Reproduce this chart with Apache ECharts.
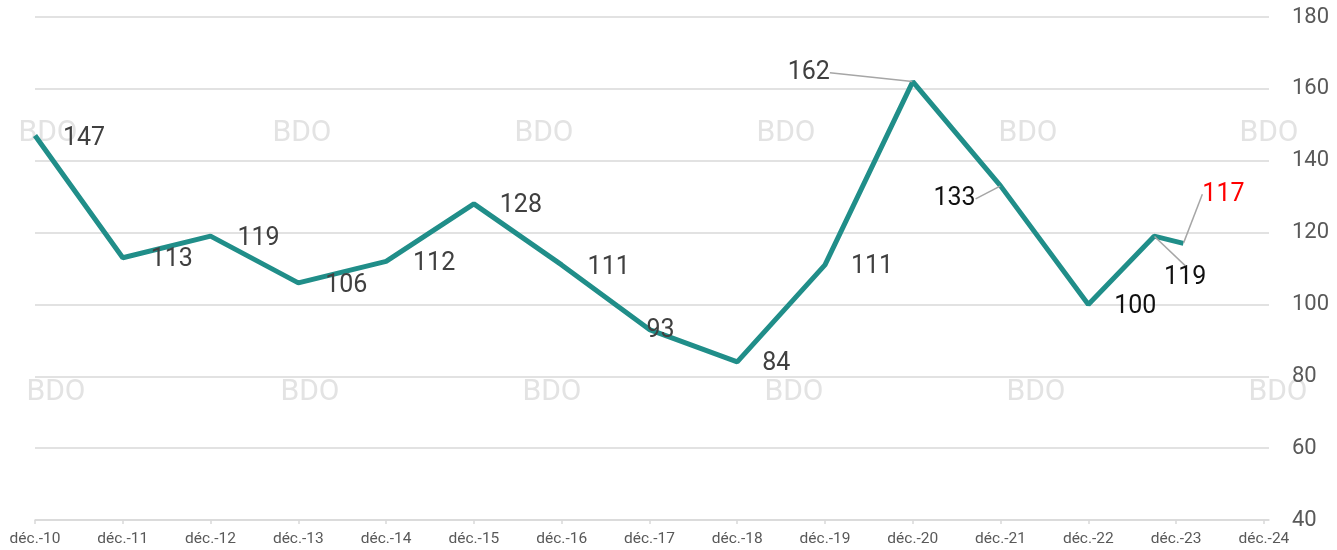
<!DOCTYPE html>
<html>
<head>
<meta charset="utf-8">
<script src="https://cdn.jsdelivr.net/npm/echarts@6/dist/echarts.min.js"></script>
<style>
    html, body { margin: 0; padding: 0; background: #fff; }
    #chart { width: 1337px; height: 550px; }
</style>
</head>
<body>
<div id="chart"></div>
<script>
// months counted from déc. 2010
const months = [0, 12, 24, 36, 48, 60, 72, 84, 96, 108, 120, 132, 144, 153, 157];
const values = [147, 113, 119, 106, 112, 128, 111, 93, 84, 111, 162, 133, 100, 119, 117];
const tickMonths = [0, 12, 24, 36, 48, 60, 72, 84, 96, 108, 120, 132, 144, 156, 168];
const tickLabels = ['déc.-10', 'déc.-11', 'déc.-12', 'déc.-13', 'déc.-14', 'déc.-15', 'déc.-16',
    'déc.-17', 'déc.-18', 'déc.-19', 'déc.-20', 'déc.-21', 'déc.-22', 'déc.-23', 'déc.-24'];

// label placement (centre offset from the point), colour, leader line
const labelOffsets = [[49, 3], [49, 2], [48, 3], [48, 3], [48, 2], [47, 2], [47, 3], [11, 1],
    [39, 2], [47, 2], [-104, -9], [-46, 13], [47, 2], [31, 42], [40, -49]];
const labelColors = ['#404040', '#404040', '#404040', '#404040', '#404040', '#404040', '#404040',
    '#404040', '#404040', '#404040', '#404040', '#111', '#111', '#111', '#ff0000'];
const withLeader = [10, 11, 13, 14];

const seriesData = months.map((m, i) => ({
    value: [m, values[i]],
    label: { color: labelColors[i] },
    labelLine: { show: withLeader.indexOf(i) >= 0 }
}));

const watermarks = [];
[[48, 133], [302, 133], [544, 133], [786, 133], [1028, 133], [1269, 133],
 [56, 392], [310, 392], [552, 392], [794, 392], [1036, 392], [1278, 392]].forEach(p => {
    watermarks.push({
        type: 'text', x: p[0], y: p[1], z: 0, silent: true,
        style: {
            text: 'BDO', fill: '#e3e3e3', font: '30px Roboto',
            textAlign: 'center', textVerticalAlign: 'middle'
        }
    });
});

const chart = echarts.init(document.getElementById('chart'));
chart.setOption({
    animation: false,
    textStyle: { fontFamily: 'Roboto' },
    graphic: watermarks,
    grid: { left: 35, right: 68, top: 17, bottom: 30 },
    xAxis: {
        type: 'value',
        min: 0,
        max: 168.7,
        splitLine: { show: false },
        axisLine: { lineStyle: { color: '#d9d9d9', width: 1.5 } },
        axisTick: { customValues: tickMonths, length: 4, lineStyle: { color: '#d9d9d9', width: 1.5 } },
        axisLabel: {
            customValues: tickMonths,
            formatter: v => tickLabels[tickMonths.indexOf(v)] || '',
            color: '#595959', fontSize: 15.5, margin: 11
        }
    },
    yAxis: {
        type: 'value',
        position: 'right',
        min: 40,
        max: 180,
        interval: 20,
        axisLine: { show: false },
        axisTick: { show: false },
        axisLabel: { color: '#595959', fontSize: 22, margin: 23 },
        splitLine: { lineStyle: { color: '#d9d9d9', width: 1.5 } }
    },
    series: [{
        type: 'line',
        data: seriesData,
        symbol: 'circle',
        symbolSize: 1,
        itemStyle: { color: 'rgba(0,0,0,0)', borderWidth: 0 },
        lineStyle: { color: '#208e89', width: 5 },
        z: 3,
        label: {
            show: true,
            position: 'inside',
            fontSize: 25,
            formatter: p => p.value[1]
        },
        labelLine: { show: false, lineStyle: { color: '#a6a6a6', width: 1.5 } },
        labelLayout: p => ({ dx: labelOffsets[p.dataIndex][0], dy: labelOffsets[p.dataIndex][1] })
    }]
});
</script>
</body>
</html>
